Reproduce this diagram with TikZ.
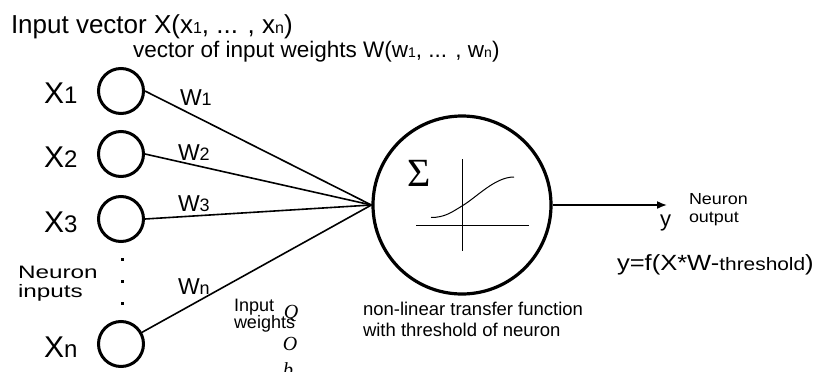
\documentclass[tikz,border=0pt]{standalone}
\usepackage{fontspec}
\usepackage{graphicx}
\setmainfont{Liberation Sans}
\newfontfamily\serifit{Liberation Serif}
\usetikzlibrary{arrows.meta}
\newcommand\fsz[1]{\fontsize{#1}{#1}\selectfont}
\newcommand\subt[2]{{\fsz{#1}#2}}
\tikzset{
  txt/.style={inner sep=0pt, outer sep=0pt, anchor=base west},
  inp/.style={circle, draw, line width=3pt, minimum size=45pt, inner sep=0pt},
  neur/.style={circle, draw, line width=3.2pt, minimum size=178pt, inner sep=0pt},
  conn/.style={line width=1.6pt},
  axis/.style={line width=1pt},
  dotsq/.style={rectangle, fill, minimum size=3pt, inner sep=0pt},
}
\begin{document}
\begin{tikzpicture}[x=1pt,y=-1pt]
\useasboundingbox (0,0) rectangle (814,372);
% titles
\node[txt, font=\fsz{26}] (title) at (11,33) {Input vector X(x\subt{16}{1}, ... , x\subt{16}{n})};
\node[txt, font=\fsz{22.5}] (wvec) at (133,57) {vector of input weights W(w\subt{14}{1}, ... , w\subt{14}{n})};
% input neurons
\node[inp] (x1) at (121,91) {};
\node[inp] (x2) at (121,154) {};
\node[inp] (x3) at (121,219) {};
\node[inp] (xn) at (121,344) {};
\node[txt, font=\fsz{30}] (lx1) at (44,103) {X\subt{24}{1}};
\node[txt, font=\fsz{30}] (lx2) at (44,167) {X\subt{24}{2}};
\node[txt, font=\fsz{30}] (lx3) at (44,232) {X\subt{24}{3}};
\node[txt, font=\fsz{30}] (lxn) at (44,357) {X\subt{24}{n}};
% dots
\node[dotsq] (d1) at (122,259) {};
\node[dotsq] (d2) at (122,281) {};
\node[dotsq] (d3) at (122,303) {};
\node[txt, font=\fsz{18}] (ni1) at (18,278) {\scalebox{1.35}[1]{Neuron}};
\node[txt, font=\fsz{18}] (ni2) at (18,297) {\scalebox{1.35}[1]{inputs}};
% neuron
\node[neur] (neuron) at (462,205) {};
% weights lines
\draw[conn] (x1.east) -- (neuron.west);
\draw[conn] (x2.east) -- (neuron.west);
\draw[conn] (x3.east) -- (neuron.west);
\draw[conn] (xn) -- (neuron.west);
\node[txt, font=\fsz{23}] (w1) at (180,105) {W\subt{18}{1}};
\node[txt, font=\fsz{23}] (w2) at (178,160) {W\subt{18}{2}};
\node[txt, font=\fsz{23}] (w3) at (178,211) {W\subt{18}{3}};
\node[txt, font=\fsz{23}] (wn) at (178,294) {W\subt{18}{n}};
\node[txt, font=\fsz{18}] (iw1) at (234,311) {Input};
\node[txt, font=\fsz{18}] (iw2) at (234,328) {weights};
\node[inner sep=0pt, font=\serifit\itshape\fsz{20}, anchor=base] (q1) at (291,318) {Q};
\node[inner sep=0pt, font=\serifit\itshape\fsz{20}, anchor=base] (q2) at (290,350) {O};
\node[inner sep=0pt, font=\serifit\itshape\fsz{20}, anchor=base] (q3) at (288,376) {b};
% inside neuron
\node[inner sep=0pt, font=\serifit\fsz{40}] (sig) at (419,173) {Σ};
\coordinate (vt) at (462,159);
\coordinate (vb) at (462,251);
\coordinate (hl) at (416,225);
\coordinate (hr) at (529,225);
\draw[axis] (vt) -- (vb);
\draw[axis] (hl) -- (hr);
\coordinate (s0) at (431,217.5);
\coordinate (s1) at (462,206);
\coordinate (s2) at (514,177);
\draw[axis] (s0) .. controls (445,217.5) and (452,212) .. (s1) .. controls (477,197) and (495,177) .. (s2);
\node[txt, font=\fsz{18.5}] (nl1) at (363,315) {non-linear transfer function};
\node[txt, font=\fsz{18.5}] (nl2) at (363,336) {with threshold of neuron};
% output
\coordinate (out) at (667,205);
\draw[conn, -{Latex[length=10pt,width=8pt]}] (neuron.east) -- (out);
\node[txt, font=\fsz{22}] (y) at (660,226) {y};
\node[txt, font=\fsz{16}] (no1) at (689,204) {\scalebox{1.12}[1]{Neuron}};
\node[txt, font=\fsz{16}] (no2) at (689,222) {\scalebox{1.12}[1]{output}};
\node[txt, font=\fsz{22}] (eq) at (617,270) {\scalebox{1.16}[1]{y=f(X*W-\subt{18}{threshold})}};
\end{tikzpicture}
\end{document}
